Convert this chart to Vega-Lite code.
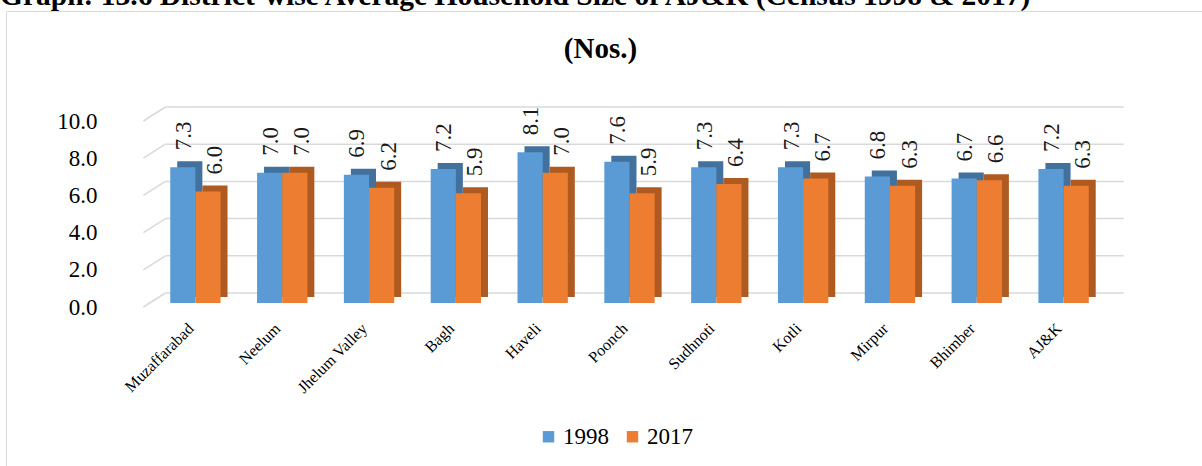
{
  "$schema": "https://vega.github.io/schema/vega-lite/v6.json",
  "width": 1196,
  "height": 455,
  "autosize": {"type": "none"},
  "padding": {"left": 6, "top": 11, "right": 0, "bottom": 0},
  "background": "white",
  "title": {
    "text": "Graph: 13.6 District-wise Average Household Size of AJ&K (Census 1998 & 2017)",
    "anchor": "start",
    "frame": "group",
    "dx": -6,
    "offset": -23,
    "baseline": "alphabetic",
    "font": "Liberation Serif",
    "fontSize": 29.5,
    "fontWeight": "bold",
    "color": "black"
  },
  "config": {
    "view": {"stroke": "#d9d9d9", "strokeWidth": 1},
    "font": "Liberation Serif"
  },
  "resolve": {"scale": {"xOffset": "independent"}},
  "datasets": {
    "households": [
      {"district": "Muzaffarabad", "year": "1998", "value": 7.3},
      {"district": "Muzaffarabad", "year": "2017", "value": 6.0},
      {"district": "Neelum", "year": "1998", "value": 7.0},
      {"district": "Neelum", "year": "2017", "value": 7.0},
      {"district": "Jhelum Valley", "year": "1998", "value": 6.9},
      {"district": "Jhelum Valley", "year": "2017", "value": 6.2},
      {"district": "Bagh", "year": "1998", "value": 7.2},
      {"district": "Bagh", "year": "2017", "value": 5.9},
      {"district": "Haveli", "year": "1998", "value": 8.1},
      {"district": "Haveli", "year": "2017", "value": 7.0},
      {"district": "Poonch", "year": "1998", "value": 7.6},
      {"district": "Poonch", "year": "2017", "value": 5.9},
      {"district": "Sudhnoti", "year": "1998", "value": 7.3},
      {"district": "Sudhnoti", "year": "2017", "value": 6.4},
      {"district": "Kotli", "year": "1998", "value": 7.3},
      {"district": "Kotli", "year": "2017", "value": 6.7},
      {"district": "Mirpur", "year": "1998", "value": 6.8},
      {"district": "Mirpur", "year": "2017", "value": 6.3},
      {"district": "Bhimber", "year": "1998", "value": 6.7},
      {"district": "Bhimber", "year": "2017", "value": 6.6},
      {"district": "AJ&K", "year": "1998", "value": 7.2},
      {"district": "AJ&K", "year": "2017", "value": 6.3}
    ],
    "grid": [
      {"value": 0}, {"value": 2}, {"value": 4}, {"value": 6}, {"value": 8}, {"value": 10}
    ]
  },
  "layer": [
    {
      "data": {"name": "grid"},
      "mark": {"type": "rule", "color": "#d9d9d9", "strokeWidth": 1.5, "xOffset": -30, "x2Offset": 60, "yOffset": -10},
      "encoding": {
        "x": {"datum": "Muzaffarabad", "type": "nominal"},
        "x2": {"datum": "AJ&K"},
        "y": {"field": "value", "type": "quantitative"}
      }
    },
    {
      "data": {"name": "grid"},
      "mark": {"type": "rule", "color": "#d9d9d9", "strokeWidth": 1.5, "xOffset": -52, "x2Offset": -30, "yOffset": 4, "y2Offset": -10},
      "encoding": {
        "x": {"datum": "Muzaffarabad", "type": "nominal"},
        "x2": {"datum": "Muzaffarabad"},
        "y": {"field": "value", "type": "quantitative"},
        "y2": {"field": "value"}
      }
    },
    {
      "data": {"name": "households"},
      "mark": {"type": "bar", "yOffset": -6, "y2Offset": -6},
      "encoding": {
        "x": {"field": "district", "type": "nominal"},
        "xOffset": {"field": "year", "type": "nominal", "scale": {"domain": ["1998", "2017"], "range": [7, 57.3]}},
        "y": {"field": "value", "type": "quantitative"},
        "color": {"condition": {"test": "datum.year == '1998'", "value": "#41719c"}, "value": "#ae5a21"}
      }
    },
    {
      "data": {"name": "households"},
      "mark": {"type": "bar"},
      "encoding": {
        "x": {
          "field": "district",
          "type": "nominal",
          "sort": ["Muzaffarabad", "Neelum", "Jhelum Valley", "Bagh", "Haveli", "Poonch", "Sudhnoti", "Kotli", "Mirpur", "Bhimber", "AJ&K"],
          "scale": {
            "domain": ["Muzaffarabad", "Neelum", "Jhelum Valley", "Bagh", "Haveli", "Poonch", "Sudhnoti", "Kotli", "Mirpur", "Bhimber", "AJ&K"],
            "range": [146, 1101],
            "paddingInner": 0.42,
            "paddingOuter": 0.21
          },
          "axis": {
            "orient": "bottom",
            "offset": -150,
            "domain": false,
            "ticks": false,
            "tickSize": 0,
            "grid": false,
            "labelAngle": -45,
            "labelAlign": "right",
            "labelBaseline": "top",
            "labelPadding": 4,
            "labelOffset": -10,
            "labelFontSize": 16,
            "labelFont": "Liberation Serif",
            "labelColor": "black",
            "labelOverlap": false,
            "title": null
          }
        },
        "xOffset": {"field": "year", "type": "nominal", "scale": {"domain": ["1998", "2017"], "paddingInner": 0, "paddingOuter": 0}},
        "y": {
          "field": "value",
          "type": "quantitative",
          "scale": {"domain": [0, 10], "range": [292, 106], "nice": false, "zero": true},
          "axis": {
            "values": [0, 2, 4, 6, 8, 10],
            "format": ".1f",
            "offset": -94,
            "domain": false,
            "ticks": false,
            "tickSize": 0,
            "grid": false,
            "labelPadding": 3,
            "labelFontSize": 23,
            "labelFont": "Liberation Serif",
            "labelColor": "black",
            "labelOffset": 4,
            "title": "(Nos.)",
            "titleAngle": 0,
            "titleX": 500,
            "titleY": 46,
            "titleAlign": "center",
            "titleBaseline": "alphabetic",
            "titleFont": "Liberation Serif",
            "titleFontSize": 29,
            "titleFontWeight": "bold",
            "titleColor": "black"
          }
        },
        "color": {
          "field": "year",
          "type": "nominal",
          "scale": {"domain": ["1998", "2017"], "range": ["#5b9bd5", "#ed7d31"]},
          "legend": {
            "orient": "none",
            "legendX": 531,
            "legendY": 414,
            "direction": "horizontal",
            "title": null,
            "symbolType": "square",
            "symbolSize": 130,
            "symbolStrokeWidth": 0,
            "labelFontSize": 23,
            "labelFont": "Liberation Serif",
            "labelColor": "black",
            "columnPadding": 12,
            "labelOffset": 3
          }
        }
      }
    },
    {
      "data": {"name": "households"},
      "transform": [{"filter": "datum.year == '1998'"}],
      "mark": {"type": "text", "angle": 270, "align": "left", "baseline": "middle", "dx": 17, "dy": 1, "fontSize": 23, "font": "Liberation Serif", "color": "#1a1a1a"},
      "encoding": {
        "x": {"field": "district", "type": "nominal"},
        "xOffset": {"field": "year", "type": "nominal", "scale": {"domain": ["1998", "2017"]}},
        "y": {"field": "value", "type": "quantitative"},
        "text": {"field": "value", "type": "quantitative", "format": ".1f"}
      }
    },
    {
      "data": {"name": "households"},
      "transform": [{"filter": "datum.year == '2017'"}],
      "mark": {"type": "text", "angle": 270, "align": "left", "baseline": "middle", "dx": 17, "dy": 7, "fontSize": 23, "font": "Liberation Serif", "color": "#1a1a1a"},
      "encoding": {
        "x": {"field": "district", "type": "nominal"},
        "xOffset": {"field": "year", "type": "nominal", "scale": {"domain": ["1998", "2017"]}},
        "y": {"field": "value", "type": "quantitative"},
        "text": {"field": "value", "type": "quantitative", "format": ".1f"}
      }
    }
  ]
}
